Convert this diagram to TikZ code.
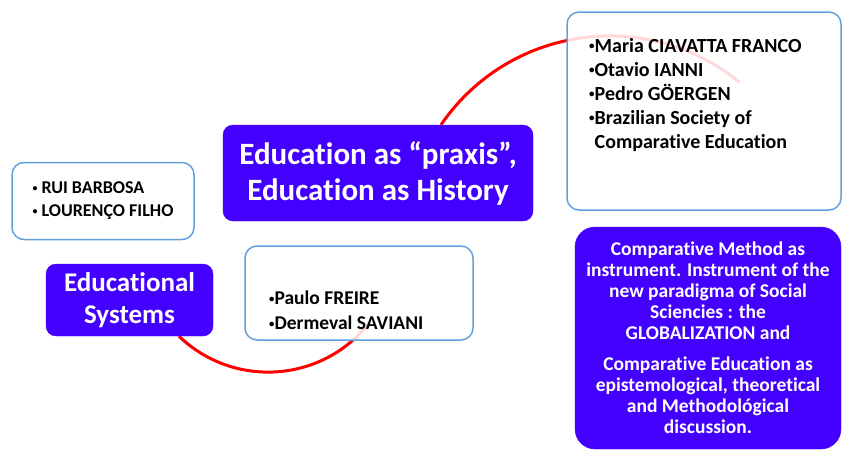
\documentclass[tikz,border=0pt]{standalone}
\usepackage{fontspec}
\setmainfont{Carlito}[Ligatures={NoCommon}]
\usetikzlibrary{backgrounds}
\definecolor{violetbox}{RGB}{68,0,255}
\definecolor{framebl}{RGB}{100,160,220}
\newcommand{\dotb}{\raisebox{0.13em}{\scalebox{0.55}{•}}}
\begin{document}
\begin{tikzpicture}[x=1pt,y=-1pt,
  purplebox/.style={fill=violetbox, draw=violetbox, rounded corners=10pt, text=white, align=center, inner sep=0pt},
  framebox/.style={draw=framebl, line width=1.5pt, fill=white, rounded corners=12pt, inner sep=0pt},
  glassbox/.style={framebox, fill opacity=0.85},
  listtext/.style={align=left, inner sep=0pt, text=black},
  redlink/.style={draw=red, line width=3pt}]
\useasboundingbox (0,0) rectangle (842,451);

% main topic
\node[purplebox, minimum width=310pt, minimum height=96pt,
      font=\bfseries\fontsize{31}{36}\selectfont] (m) at (378,173)
      {Education as “praxis”,\\Education as History};

% top-right list box
\node[glassbox, minimum width=274pt, minimum height=198pt] (tr) at (704,111) {};
\node[listtext, anchor=north west, font=\bfseries\fontsize{20}{24}\selectfont] (trt) at (589,38)
      {\dotb Maria CIAVATTA FRANCO\\\dotb Otavio IANNI\\\dotb Pedro GÖERGEN\\\dotb Brazilian Society of\\\phantom{\dotb}Comparative Education};

% left list box
\node[framebox, minimum width=182pt, minimum height=77pt, align=left,
      font=\bfseries\fontsize{18}{23}\selectfont] (rb) at (103,201)
      {\dotb\ RUI BARBOSA\\\dotb\ LOURENÇO FILHO};

% educational systems
\node[purplebox, minimum width=167pt, minimum height=72pt,
      font=\bfseries\fontsize{27}{32}\selectfont] (es) at (129.5,300)
      {Educational\\Systems};

% Freire / Saviani box
\node[glassbox, minimum width=228pt, minimum height=94pt] (pf) at (359,293) {};
\node[listtext, anchor=west, font=\bfseries\fontsize{19.5}{25}\selectfont] (pft) at (269,310.5)
      {\dotb Paulo FREIRE\\\dotb Dermeval SAVIANI};

% right purple box
\node[purplebox, rounded corners=20pt, minimum width=266pt, minimum height=222pt,
      font=\bfseries\fontsize{19.5}{21}\selectfont] (cm) at (708,338)
      {Comparative Method as\\instrument. Instrument of the\\new paradigma of Social\\Sciencies : the\\GLOBALIZATION and\\[10pt]Comparative Education as\\epistemological, theoretical\\and Methodológical\\discussion.};

% connector ends inside the translucent boxes
\coordinate (trin) at (739.6,82.4);
\coordinate (pfin) at (369,323);

\begin{scope}[on background layer]
  \draw[redlink] ([xshift=63pt]m.north) .. controls (508.6,26) and (646.8,6.2) .. (trin);
  \draw[redlink] ([xshift=49.5pt]es.south) .. controls (233.7,388.8) and (322.2,382.9) .. (pfin);
\end{scope}
\end{tikzpicture}
\end{document}
